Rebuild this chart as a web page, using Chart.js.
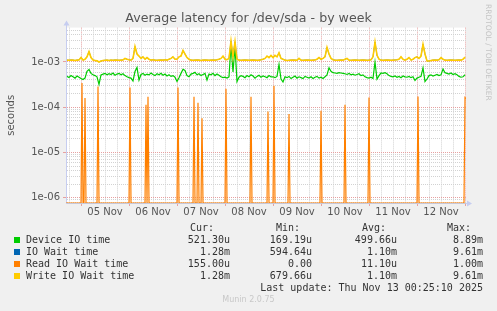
<!DOCTYPE html>
<html><head><meta charset="utf-8">
<script src="https://cdn.jsdelivr.net/npm/chart.js@4.4.1/dist/chart.umd.min.js"></script>
<style>
html,body{margin:0;padding:0;background:#f0f0f0;}
#wrap{position:relative;width:497px;height:311px;overflow:hidden;background:#f0f0f0;}
#c{position:absolute;left:0;top:0;}
.t{position:absolute;font-family:"DejaVu Sans Mono",monospace;font-size:10px;line-height:12px;height:12px;color:#333;white-space:pre;}
.sw{position:absolute;width:6px;height:6px;}
#rrd{position:absolute;left:484px;top:4px;writing-mode:vertical-rl;font-family:"DejaVu Sans",sans-serif;font-size:7.5px;line-height:9px;color:#c4c4c4;white-space:nowrap;}
#munin{position:absolute;left:0;width:497px;top:295px;text-align:center;font-family:"DejaVu Sans",sans-serif;font-size:8px;line-height:10px;color:#c8c8c8;}
</style></head><body>
<div id="wrap"><canvas id="c" width="497" height="225"></canvas><div id="legend"></div><div id="rrd">RRDTOOL / TOBI OETIKER</div><div id="munin">Munin 2.0.75</div></div>
<script>
// ---- data (hours are counted from 05 Nov 00:00) ----
const START_HOUR = -7;            // first hourly sample
const dayLabels = ['05 Nov','06 Nov','07 Nov','08 Nov','09 Nov','10 Nov','11 Nov','12 Nov'];
const yTickLabels = ['1e-06','1e-05','1e-04','1e-03'];
const yTickValues = [1e-6, 1e-5, 1e-4, 1e-3];

// Device IO time, microseconds, hourly
const deviceIoUs = [
 480,455,500,470,440,490,460,
 430,410,440,620,680,560,520,500,470,320,520,540,560,520,550,530,570,510,540,560,520,550,500,470,
 450,440,380,620,760,400,530,560,510,540,520,570,530,500,550,520,560,510,540,490,520,480,500,460,
 370,450,560,690,650,500,470,540,560,590,520,550,500,530,560,400,540,520,560,500,540,510,470,450,
 460,440,470,2400,600,2200,370,460,500,480,450,500,470,520,490,440,480,510,460,490,470,450,500,470,
 470,450,480,880,420,360,470,450,480,430,460,490,440,470,450,430,480,460,440,470,430,460,480,440,
 460,430,470,520,740,620,580,570,560,580,570,560,550,530,560,520,540,510,530,550,500,520,470,450,
 440,460,430,1000,420,500,570,560,580,550,500,480,470,490,460,480,450,490,470,460,480,450,470,390,
 440,460,480,740,370,420,500,520,490,510,530,500,520,700,580,560,540,570,530,550,520,480,460,470,521
];
// Write IO Wait time, microseconds, hourly
const writeWaitUs = [
 1100,1090,1110,1100,1080,1100,1110,
 1250,1100,1150,1300,1700,1250,1100,1080,1060,1000,1050,1080,1090,1100,1080,1100,1090,1110,1100,1090,1100,1110,1200,1150,
 1120,1100,1200,2200,1500,1350,1200,1300,1150,1250,1150,1100,1120,1100,1090,1100,1110,1100,1120,1100,1150,1200,1300,1150,
 1150,1300,1350,1800,1500,1250,1150,1100,1090,1100,1110,1100,1080,1100,1110,1100,1090,1100,1110,1100,1120,1150,1200,1350,
 1150,1120,1200,2900,1300,2800,1150,1100,1090,1100,1110,1100,1090,1100,1110,1100,1090,1100,1120,1150,1200,1350,1250,1400,
 1250,1400,1300,1600,1200,1150,1100,1080,1090,1100,1110,1100,1090,1200,1100,1090,1100,1110,1100,1090,1100,1110,1150,1250,
 1150,1200,1300,2100,1500,1200,1120,1100,1090,1100,1110,1100,1150,1200,1100,1090,1100,1110,1100,1090,1100,1110,1100,1090,
 1100,1120,1300,2750,1400,1150,1100,1090,1100,1110,1100,1090,1100,1110,1120,1150,1300,1150,1100,1150,1250,1100,1150,1250,
 1300,1200,1350,2450,1500,1050,1050,1080,1100,1110,1100,1120,1250,1150,1100,1090,1100,1110,1100,1090,1100,1110,1100,1150,1280
];
// IO Wait time: lies under the write line everywhere in the picture
const ioWaitUs = writeWaitUs.slice();
// Read IO Wait time: zero except for short spikes
const readSpikeHours = [0.5,2,8.5,24.5,32.5,33.5,48.5,56.5,58.5,60.5,72.5,85,93.5,96.5,104,120,132,144,168.5,192];
const readSpikeUs    = [342,159,288,273,113,170,273,170,125,57,256,170,80,298,71,84,113,164,173,164];
const readLastUs = 155;

const seriesNames  = ['Device IO time','IO Wait time','Read IO Wait time','Write IO Wait time'];
const seriesColors = ['#00cc00','#0066b3','#ff8000','#ffcc00'];
const colHeads = ['Cur:','Min:','Avg:','Max:'];
const curVals = ['521.30u','1.28m','155.00u','1.28m'];
const minVals = ['169.19u','594.64u','0.00','679.66u'];
const avgVals = ['499.66u','1.10m','11.10u','1.10m'];
const maxVals = ['8.89m','9.61m','1.00m','9.61m'];
const lastUpdate = 'Last update: Thu Nov 13 00:25:10 2025';

// ---- chart ----
const X_MIN = -7.5, X_MAX = 192.5;
const Y_MIN = 7.63e-7, Y_MAX = 5.75e-3;
const US = 1e-6;
const hourly = arr => arr.map((v, i) => ({x: START_HOUR + i, y: v * US}));
const readPts = [{x: X_MIN, y: Y_MIN}];
readSpikeHours.forEach((h, i) => {
  readPts.push({x: h - 0.5, y: Y_MIN}, {x: h, y: readSpikeUs[i] * US});
  if (h + 0.5 <= 192.4) readPts.push({x: h + 0.5, y: Y_MIN});
  else readPts.push({x: X_MAX, y: readLastUs * US});
});

const yTicks = [];
for (let e = -7; e <= -3; e++) for (let m = 1; m <= 9; m++) {
  const v = m * Math.pow(10, e);
  if (v >= Y_MIN && v <= Y_MAX) yTicks.push(v);
}
const xTicks = [];
for (let h = -6; h <= 192; h += 6) xTicks.push(h);

const isDecade = v => Math.abs(Math.log10(v) - Math.round(Math.log10(v))) < 1e-6;
const MAJOR = '#e6a0a0', MINOR = '#d2d2d2';

const plotPlugin = {
  id: 'plotbg',
  beforeDraw(chart) {
    const {ctx, chartArea: a} = chart;
    ctx.save(); ctx.fillStyle = '#ffffff';
    ctx.fillRect(a.left, a.top, a.right - a.left, a.bottom - a.top);
    ctx.restore();
  },
  afterDraw(chart) {
    const {ctx, chartArea: a} = chart;
    ctx.save();
    ctx.strokeStyle = '#c6cdf0'; ctx.fillStyle = '#c6cdf0'; ctx.lineWidth = 1;
    const lx = Math.round(a.left) + 0.5, by = Math.round(a.bottom) + 0.5;
    ctx.beginPath(); ctx.moveTo(lx, a.top); ctx.lineTo(lx, a.top - 3); ctx.stroke();
    ctx.beginPath(); ctx.moveTo(lx - 3, a.top - 2); ctx.lineTo(lx + 3, a.top - 2); ctx.lineTo(lx, a.top - 7); ctx.closePath(); ctx.fill();
    ctx.beginPath(); ctx.moveTo(a.right, by); ctx.lineTo(a.right + 2, by); ctx.stroke();
    ctx.beginPath(); ctx.moveTo(a.right + 1, by - 3); ctx.lineTo(a.right + 1, by + 3); ctx.lineTo(a.right + 6, by); ctx.closePath(); ctx.fill();
    ctx.restore();
  }
};

const line = (label, data, color, order, w) => ({label, data, borderColor: color, backgroundColor: color,
  borderWidth: w, pointRadius: 0, tension: 0, fill: false, order});

new Chart(document.getElementById('c'), {
  type: 'line',
  data: { datasets: [
    line(seriesNames[0], hourly(deviceIoUs), seriesColors[0], 3, 1.2),
    line(seriesNames[1], hourly(ioWaitUs), seriesColors[1], 2, 0.8),
    line(seriesNames[2], readPts, seriesColors[2], 1, 1.2),
    line(seriesNames[3], hourly(writeWaitUs), seriesColors[3], 0, 1.6)
  ]},
  plugins: [plotPlugin],
  options: {
    responsive: false, animation: false, devicePixelRatio: 1,
    layout: {padding: {left: 0, right: 0, top: 0, bottom: 0}},
    plugins: {
      legend: {display: false}, tooltip: {enabled: false},
      title: {display: true, text: 'Average latency for /dev/sda - by week', color: '#555',
        font: {family: 'DejaVu Sans', size: 12.6, weight: 'normal'}, padding: {top: 11.5, bottom: 1}}
    },
    scales: {
      x: {
        type: 'linear', min: X_MIN, max: X_MAX,
        afterBuildTicks: s => { s.ticks = xTicks.map(v => ({value: v})); },
        afterFit: s => { s.height = 22; },
        ticks: {autoSkip: false, maxRotation: 0, padding: 0, color: '#555',
          font: {family: 'DejaVu Sans', size: 10},
          callback: v => (((v % 24) + 24) % 24 === 12 ? dayLabels[(v - 12) / 24] : '')},
        grid: {color: c => (c.tick && ((c.tick.value % 24) + 24) % 24 === 0 ? MAJOR : MINOR),
          tickColor: c => (c.tick && ((c.tick.value % 24) + 24) % 24 === 0 ? MAJOR : 'rgba(0,0,0,0)'),
          tickLength: 3, lineWidth: 1},
        border: {display: true, color: '#c8c8d8', dash: [1, 1]}
      },
      y: {
        type: 'logarithmic', min: Y_MIN, max: Y_MAX,
        afterBuildTicks: s => { s.ticks = yTicks.map(v => ({value: v})); },
        afterFit: s => { s.width = 66; },
        ticks: {autoSkip: false, padding: 3, color: '#555',
          font: {family: 'DejaVu Sans', size: 10},
          callback: v => { const k = yTickValues.findIndex(t => Math.abs(t - v) / t < 1e-6); return k >= 0 ? yTickLabels[k] : ''; }},
        grid: {color: c => (c.tick && isDecade(c.tick.value) ? MAJOR : MINOR),
          tickColor: c => (c.tick && isDecade(c.tick.value) ? MAJOR : 'rgba(0,0,0,0)'),
          tickLength: 3, lineWidth: 1},
        border: {display: true, color: '#c6cdf0', dash: [1, 1]},
        title: {display: true, text: 'seconds', color: '#555', font: {family: 'DejaVu Sans', size: 10},
          padding: {top: 5, bottom: 0}}
      },
      yRight: {
        type: 'linear', position: 'right', display: true,
        ticks: {display: false}, grid: {display: false, drawOnChartArea: false}, border: {display: false},
        afterFit: s => { s.width = 31; }
      }
    }
  }
});

// ---- munin-style legend table ----
const lg = document.getElementById('legend');
function txt(s, cy, left, right, color) {
  const d = document.createElement('div'); d.className = 't'; d.textContent = s;
  d.style.top = (cy - 6) + 'px';
  if (left != null) d.style.left = left + 'px';
  if (right != null) { d.style.right = (497 - right) + 'px'; d.style.textAlign = 'right'; }
  if (color) d.style.color = color;
  lg.appendChild(d);
}
const headLeft = [190, 276, 362, 447];
const colRight = [230, 312, 397, 483];
colHeads.forEach((h, i) => txt(h, 227.7, headLeft[i], null));
seriesNames.forEach((n, i) => {
  const cy = 239.7 + 12 * i;
  const sw = document.createElement('div'); sw.className = 'sw';
  sw.style.left = '14px'; sw.style.top = (cy - 3) + 'px'; sw.style.background = seriesColors[i];
  lg.appendChild(sw);
  txt(n, cy, 26, null);
  [curVals, minVals, avgVals, maxVals].forEach((col, j) => txt(col[i], cy, null, colRight[j]));
});
txt(lastUpdate, 287.7, null, 483);
</script>
</body></html>
